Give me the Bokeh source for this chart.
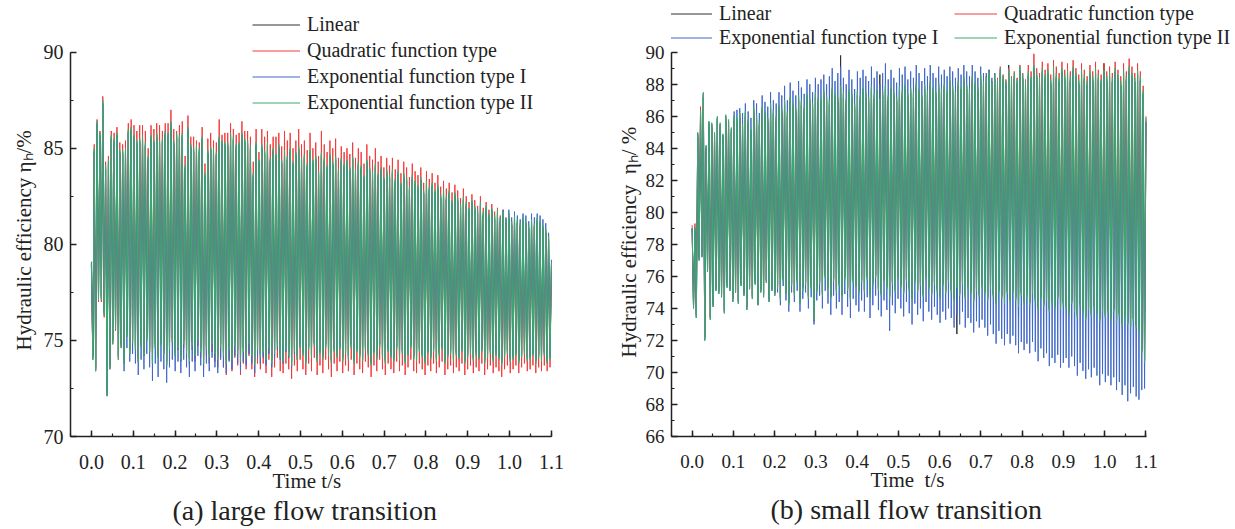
from bokeh.plotting import figure
from bokeh.models import Range1d, SingleIntervalTicker, PrintfTickFormatter, Legend, LegendItem, Title
from bokeh.layouts import row
from bokeh.embed import file_html
from bokeh.resources import INLINE

FONT = "Liberation Serif"
T_END = 1.1
names = ["Linear", "Quadratic function type", "Exponential function type I", "Exponential function type II"]
colors = ["#303030", "#F03C3C", "#4169C8", "#3DAA6D"]

# ---------------- (a) large flow transition : peak / trough of every cycle ----------------
a_start = [78.9, 79.0, 79.1, 79.0]

a_lin_pk = [84.8, 86.2, 85.6, 87.3, 83.9, 84.2, 85.5, 85.3, 85.6, 84.7, 84.7, 84.8, 85.8, 85.9, 85.5,
            85.2, 85.3, 85.5, 85.1, 84.4, 85.5, 85.2, 85.6, 85.2, 85.3, 85.7, 85.6, 86.2, 85.2, 85.6,
            85.5, 85.6, 83.9, 85.9, 85.0, 84.8, 85.0, 84.8, 85.4, 83.5, 84.7, 84.9, 84.8, 84.6, 85.4,
            85.2, 85.1, 85.1, 85.6, 85.4, 85.0, 85.1, 85.6, 85.3, 85.2, 84.9, 83.5, 85.1, 84.2, 85.0,
            84.7, 85.1, 84.3, 84.8, 84.5, 85.0, 84.2, 84.7, 84.4, 84.8, 84.1, 84.6, 84.9, 84.3,
            84.5, 84.0, 84.7, 84.2, 84.4, 83.6, 84.6, 84.3, 83.9, 84.5, 84.1, 84.4, 83.7, 84.3, 84.0,
            84.2, 83.8, 84.4, 83.7, 84.1, 83.9, 83.4, 84.2, 83.8, 83.6, 84.0, 83.5, 83.8, 83.3, 83.7,
            83.4, 83.7, 83.2, 83.6, 83.0, 83.5, 83.3, 82.8, 83.4, 83.1, 82.9, 83.3, 82.6, 83.1, 82.8,
            83.0, 82.6, 82.9, 82.4, 82.7, 82.3, 82.6, 82.1, 82.5, 82.2, 81.9, 82.3, 82.0, 81.7,
            82.1, 81.8, 81.6, 82.0, 81.5, 81.8, 81.4, 81.7, 81.3, 81.6, 81.2, 81.5, 81.1, 81.4, 81.0,
            81.3, 81.1, 80.9, 81.2, 81.0, 80.8, 81.1, 80.9, 81.2, 81.0, 80.8, 80.6, 80.2, 78.8]
a_lin_tr = [74.2, 73.6, 77.3, 77.3, 76.5, 72.3, 73.7, 75.0, 75.8, 74.2, 74.8, 74.0, 75.4, 74.5, 75.1,
            74.7, 74.1, 74.9, 74.4, 75.2, 74.6, 74.0, 74.8, 74.3, 75.0, 74.5, 73.9, 74.7, 75.1, 74.4,
            74.8, 74.2, 75.0, 74.5, 74.1, 74.9, 74.4, 75.2, 74.6, 74.0, 74.7, 74.3, 75.0, 74.5, 74.2,
            74.8, 74.4, 74.0, 74.7, 74.2, 74.9, 74.5, 74.1, 74.6, 74.3, 75.0, 74.4, 73.9, 74.7, 74.3,
            74.6, 74.2, 74.8, 74.0, 74.5, 74.9, 74.3, 74.1, 74.7, 74.4, 73.9, 74.6, 74.2, 74.8,
            74.4, 74.0, 74.7, 74.3, 74.9, 74.1, 74.5, 74.2, 74.8, 74.4, 74.0, 74.6, 74.3, 74.7, 74.1,
            74.5, 74.2, 74.8, 74.0, 74.6, 74.3, 74.1, 74.7, 74.4, 73.9, 74.5, 74.2, 74.8, 74.3, 74.0,
            74.6, 74.3, 74.1, 74.7, 74.2, 74.5, 74.0, 74.4, 74.8, 74.2, 74.1, 74.6, 74.3, 74.0, 74.5,
            74.2, 74.6, 74.1, 74.4, 74.7, 74.0, 74.3, 74.5, 74.1, 74.4, 74.2, 74.6, 74.0, 74.3,
            74.5, 74.1, 74.4, 74.2, 74.6, 74.0, 74.3, 74.5, 74.1, 74.4, 74.2, 73.9, 74.3, 74.5, 74.1,
            74.2, 74.4, 74.0, 74.3, 74.5, 74.1, 74.2, 74.4, 74.0, 74.3, 74.1, 74.4, 74.0, 74.2]

a_quad_pk = [85.2, 86.5, 85.9, 87.7, 84.3, 84.6, 85.9, 85.8, 86.1, 85.3, 85.2, 85.4, 86.3, 86.5, 86.2,
             85.9, 86.2, 86.2, 85.9, 85.0, 86.2, 86.0, 86.3, 86.2, 85.9, 86.3, 86.3, 87.0, 86.0, 85.9,
             86.2, 86.4, 84.6, 86.7, 85.6, 85.6, 85.4, 85.3, 86.1, 84.2, 85.5, 85.8, 85.4, 85.3, 86.5,
             85.7, 85.8, 85.8, 86.3, 86.0, 85.7, 85.8, 86.4, 85.9, 85.9, 85.6, 84.3, 86.0, 84.8, 86.0,
             85.6, 85.9, 85.2, 85.6, 85.6, 85.8, 85.1, 85.9, 85.4, 85.8, 85.0, 85.4, 86.0, 85.2,
             85.4, 84.9, 85.8, 85.0, 85.3, 84.6, 85.9, 85.2, 84.8, 85.4, 85.0, 85.5, 84.5, 85.1, 84.8,
             85.0, 84.7, 85.3, 84.5, 85.0, 84.8, 84.2, 85.2, 84.6, 84.4, 85.0, 84.3, 84.6, 84.0, 84.5,
             84.1, 84.5, 83.9, 84.4, 83.7, 84.3, 84.0, 83.5, 84.2, 83.8, 83.6, 84.0, 83.2, 83.8, 83.4,
             83.7, 83.2, 83.6, 83.0, 83.3, 82.9, 83.2, 82.7, 83.1, 82.8, 82.4, 82.9, 82.5, 82.2,
             82.6, 82.3, 82.0, 82.5, 81.9, 82.2, 81.8, 82.1, 81.7, 81.9, 81.5, 81.8, 81.3, 81.6, 81.1,
             81.4, 81.2, 81.0, 81.3, 81.1, 80.9, 81.2, 81.0, 81.3, 81.1, 80.9, 80.7, 80.3, 78.9]
a_quad_tr = [74.0, 73.4, 77.0, 77.0, 76.2, 72.1, 73.5, 74.8, 75.5, 74.0, 74.6, 73.8, 75.2, 74.3, 74.9,
             74.5, 73.9, 74.7, 74.2, 75.0, 74.4, 73.8, 74.6, 74.1, 74.8, 74.3, 73.7, 74.5, 74.9, 74.2,
             74.5, 73.9, 74.6, 74.1, 73.7, 74.5, 73.9, 74.7, 74.1, 73.5, 74.2, 73.8, 74.4, 73.9, 73.6,
             74.1, 73.6, 73.2, 74.0, 73.4, 74.1, 73.7, 73.2, 73.8, 73.5, 74.2, 73.5, 73.1, 73.8, 73.5,
             73.8, 73.3, 74.0, 73.1, 73.6, 74.1, 73.4, 73.3, 73.8, 73.5, 73.0, 73.7, 73.4, 74.0,
             73.5, 73.2, 73.8, 73.4, 74.1, 73.2, 73.7, 73.3, 74.0, 73.5, 73.1, 73.8, 73.4, 73.9, 73.3,
             73.7, 73.4, 74.0, 73.2, 73.8, 73.5, 73.3, 73.9, 73.6, 73.1, 73.7, 73.4, 74.0, 73.5, 73.2,
             73.8, 73.5, 73.3, 73.9, 73.4, 73.7, 73.2, 73.6, 74.0, 73.4, 73.3, 73.8, 73.5, 73.2, 73.7,
             73.4, 73.8, 73.3, 73.6, 73.9, 73.2, 73.5, 73.7, 73.3, 73.6, 73.4, 73.8, 73.2, 73.5,
             73.7, 73.3, 73.6, 73.4, 73.8, 73.2, 73.5, 73.7, 73.3, 73.6, 73.4, 73.1, 73.5, 73.7, 73.3,
             73.5, 73.7, 73.3, 73.6, 73.8, 73.4, 73.5, 73.7, 73.3, 73.6, 73.4, 73.7, 73.4, 73.6]

a_exp1_pk = [84.9, 86.3, 85.7, 87.4, 84.0, 84.3, 85.6, 85.4, 85.7, 84.8, 84.8, 84.9, 85.9, 86.0, 85.6,
             85.3, 85.4, 85.6, 85.2, 84.5, 85.6, 85.3, 85.7, 85.3, 85.4, 85.8, 85.7, 86.3, 85.3, 85.7,
             85.6, 85.7, 84.0, 86.0, 85.1, 84.9, 85.1, 84.9, 85.5, 83.6, 84.8, 85.0, 84.9, 84.7, 85.5,
             85.3, 85.2, 85.2, 85.7, 85.5, 85.1, 85.2, 85.7, 85.4, 85.3, 85.0, 83.6, 85.2, 84.3, 85.1,
             84.8, 85.2, 84.4, 84.9, 84.6, 85.1, 84.3, 84.8, 84.5, 84.9, 84.2, 84.7, 85.0, 84.4,
             84.6, 84.1, 84.8, 84.3, 84.5, 83.7, 84.7, 84.4, 84.0, 84.6, 84.2, 84.5, 83.8, 84.4, 84.1,
             84.3, 83.9, 84.5, 83.8, 84.2, 84.0, 83.5, 84.3, 83.9, 83.7, 84.1, 83.6, 83.9, 83.4, 83.8,
             83.5, 83.8, 83.3, 83.7, 83.1, 83.6, 83.4, 82.9, 83.5, 83.2, 83.0, 83.4, 82.7, 83.2, 82.9,
             83.1, 82.7, 83.0, 82.5, 82.8, 82.4, 82.7, 82.2, 82.6, 82.3, 82.0, 82.4, 82.1, 81.8,
             82.2, 81.9, 81.7, 82.1, 81.6, 81.9, 81.5, 81.8, 81.4, 81.7, 81.4, 81.8, 81.4, 81.8, 81.4,
             81.7, 81.5, 81.3, 81.6, 81.5, 81.2, 81.6, 81.4, 81.6, 81.5, 81.3, 81.1, 80.6, 79.2]
a_exp1_tr = [74.1, 73.5, 77.2, 77.2, 76.4, 72.2, 73.6, 74.9, 75.6, 74.1, 74.7, 73.4, 74.6, 73.9, 74.3,
             73.8, 73.2, 74.0, 73.5, 74.3, 73.6, 72.9, 73.8, 73.1, 73.9, 73.5, 72.8, 73.6, 74.0, 73.4,
             73.9, 73.3, 74.0, 73.6, 73.1, 73.9, 73.4, 74.2, 73.7, 73.1, 73.8, 73.4, 74.1, 73.6, 73.3,
             74.0, 73.6, 73.3, 73.9, 73.5, 74.2, 73.8, 73.4, 73.9, 73.7, 74.3, 73.8, 73.3, 74.1, 73.8,
             74.1, 73.7, 74.3, 73.6, 74.1, 74.5, 74.0, 73.8, 74.4, 74.1, 73.6, 74.3, 74.0, 74.6,
             74.3, 73.9, 74.6, 74.2, 74.8, 74.0, 74.4, 74.1, 74.7, 74.3, 73.9, 74.5, 74.2, 74.6, 74.0,
             74.4, 74.1, 74.7, 73.9, 74.5, 74.2, 74.0, 74.6, 74.3, 73.8, 74.4, 74.1, 74.7, 74.2, 73.9,
             74.5, 74.2, 74.0, 74.6, 74.1, 74.4, 73.9, 74.3, 74.7, 74.1, 74.0, 74.5, 74.2, 73.9, 74.4,
             74.1, 74.5, 74.0, 74.3, 74.6, 73.9, 74.2, 74.4, 74.0, 74.3, 74.1, 74.5, 73.9, 74.2,
             74.4, 74.0, 74.3, 74.1, 74.5, 73.9, 74.2, 74.4, 74.0, 74.3, 74.1, 73.8, 74.2, 74.4, 74.0,
             74.1, 74.3, 73.9, 74.2, 74.4, 74.0, 74.1, 74.3, 73.9, 74.2, 74.0, 74.3, 73.9, 74.1]

a_exp2_pk = [85.0, 86.4, 85.8, 87.5, 84.1, 84.4, 85.7, 85.5, 85.8, 84.9, 84.9, 85.0, 86.0, 86.1, 85.7,
             85.4, 85.5, 85.7, 85.3, 84.6, 85.7, 85.4, 85.8, 85.4, 85.5, 85.9, 85.8, 86.4, 85.4, 85.8,
             85.7, 85.8, 84.1, 86.1, 85.2, 85.0, 85.2, 85.0, 85.6, 83.7, 84.9, 85.1, 85.0, 84.8, 85.6,
             85.4, 85.3, 85.3, 85.8, 85.6, 85.2, 85.3, 85.8, 85.5, 85.4, 85.1, 83.7, 85.3, 84.4, 85.2,
             84.9, 85.3, 84.5, 85.0, 84.7, 85.2, 84.4, 84.9, 84.6, 85.0, 84.3, 84.8, 85.1, 84.5,
             84.7, 84.2, 84.9, 84.4, 84.6, 83.8, 84.8, 84.5, 84.1, 84.7, 84.3, 84.6, 83.9, 84.5, 84.2,
             84.4, 84.0, 84.6, 83.9, 84.3, 84.1, 83.6, 84.4, 84.0, 83.8, 84.2, 83.7, 84.0, 83.5, 83.9,
             83.6, 83.9, 83.4, 83.8, 83.2, 83.7, 83.5, 83.0, 83.6, 83.3, 83.1, 83.5, 82.8, 83.3, 83.0,
             83.2, 82.8, 83.1, 82.6, 82.9, 82.5, 82.8, 82.3, 82.7, 82.4, 82.1, 82.5, 82.2, 81.9,
             82.3, 82.0, 81.8, 82.2, 81.7, 82.0, 81.6, 81.9, 81.5, 81.8, 81.4, 81.7, 81.3, 81.6, 81.2,
             81.5, 81.3, 81.1, 81.4, 81.2, 81.0, 81.3, 81.1, 81.4, 81.2, 81.0, 80.8, 80.4, 79.0]
a_exp2_tr = [74.0, 73.4, 77.1, 77.1, 76.3, 72.1, 73.5, 74.8, 75.6, 74.0, 74.6, 73.8, 75.2, 74.3, 74.9,
             74.5, 73.9, 74.7, 74.2, 75.0, 74.4, 73.8, 74.6, 74.1, 74.8, 74.3, 73.7, 74.5, 74.9, 74.2,
             74.6, 74.0, 74.8, 74.3, 73.9, 74.7, 74.2, 75.0, 74.4, 73.8, 74.5, 74.1, 74.8, 74.3, 74.0,
             74.6, 74.2, 73.8, 74.5, 74.0, 74.7, 74.3, 73.9, 74.4, 74.1, 74.8, 74.2, 73.7, 74.5, 74.1,
             74.4, 74.0, 74.6, 73.8, 74.3, 74.7, 74.1, 73.9, 74.5, 74.2, 73.7, 74.4, 74.0, 74.6,
             74.2, 73.8, 74.5, 74.1, 74.7, 73.9, 74.3, 74.0, 74.6, 74.2, 73.8, 74.4, 74.1, 74.5, 73.9,
             74.3, 74.0, 74.6, 73.8, 74.4, 74.1, 73.9, 74.5, 74.2, 73.7, 74.3, 74.0, 74.6, 74.1, 73.8,
             74.4, 74.1, 73.9, 74.5, 74.0, 74.3, 73.8, 74.2, 74.6, 74.0, 73.9, 74.4, 74.1, 73.8, 74.3,
             74.0, 74.4, 73.9, 74.2, 74.5, 73.8, 74.1, 74.3, 73.9, 74.2, 74.0, 74.4, 73.8, 74.1,
             74.3, 73.9, 74.2, 74.0, 74.4, 73.8, 74.1, 74.3, 73.9, 74.2, 74.0, 73.7, 74.1, 74.3, 73.9,
             74.0, 74.2, 73.8, 74.1, 74.3, 73.9, 74.0, 74.2, 73.8, 74.1, 73.9, 74.2, 73.8, 74.0]

# ---------------- (b) small flow transition : peak / trough of every cycle ----------------
b_start = [79.0, 79.2, 79.0, 79.0]

b_lin_pk = [78.9, 84.7, 86.1, 87.2, 83.9, 85.4, 85.3, 84.7, 85.7, 85.3, 84.6, 85.8, 85.5, 85.0, 85.7,
            85.6, 85.9, 85.2, 86.0, 85.5, 84.9, 86.2, 85.8, 85.4, 86.3, 86.0, 85.6, 86.5, 86.1, 85.7,
            86.4, 86.2, 86.7, 86.0, 86.9, 86.5, 86.2, 87.0, 86.7, 86.3, 87.1, 86.8, 86.5, 87.2, 86.9,
            86.8, 87.3, 87.0, 86.7, 87.5, 87.1, 86.9, 89.8, 87.2, 86.8, 87.4, 87.1, 86.5, 87.3, 87.0,
            87.5, 87.2, 86.9, 87.6, 87.1, 87.4, 88.6, 87.3, 87.7, 87.0, 87.5, 87.2, 86.9, 87.6,
            87.3, 87.7, 87.1, 87.5, 87.2, 87.8, 87.4, 87.0, 87.7, 87.3, 87.9, 87.5, 87.2, 87.8, 87.4,
            87.7, 87.3, 88.0, 87.6, 87.2, 87.9, 87.5, 88.1, 87.7, 87.4, 88.2, 87.8, 87.5, 88.3, 87.9,
            88.1, 88.5, 87.8, 88.3, 88.0, 88.7, 88.2, 87.9, 89.2, 88.1, 88.4, 88.0, 88.8, 88.3, 87.9,
            88.5, 88.2, 88.9, 88.4, 88.1, 88.7, 88.3, 88.6, 88.0, 88.8, 88.4, 88.1, 88.7, 88.3,
            88.6, 88.2, 88.8, 88.4, 88.0, 88.6, 88.3, 87.9, 88.5, 88.2, 88.7, 88.3, 88.0, 89.3, 88.2,
            88.5, 88.1, 88.7, 88.3, 87.9, 88.6, 88.2, 88.8, 88.4, 88.1, 88.6, 88.2, 87.3, 85.6]
b_lin_tr = [74.2, 73.6, 77.2, 77.4, 72.2, 76.5, 73.5, 74.3, 75.3, 75.1, 74.9, 73.9, 75.5, 75.3, 74.6,
            75.2, 74.5, 75.6, 75.0, 74.1, 75.4, 74.8, 75.7, 74.4, 75.2, 74.9, 75.8, 74.6, 75.3, 75.0,
            75.5, 74.7, 75.9, 75.1, 74.4, 75.6, 75.0, 75.8, 74.5, 75.3, 75.7, 74.8, 75.4, 73.5, 75.2,
            75.7, 75.0, 76.1, 75.4, 74.8, 75.9, 75.2, 75.6, 74.9, 76.0, 75.3, 74.7, 75.8, 75.5, 75.1,
            75.8, 75.2, 76.0, 74.9, 75.6, 76.1, 75.3, 75.0, 75.9, 75.4, 74.8, 75.7, 75.2, 76.0,
            75.5, 75.1, 75.9, 75.3, 74.7, 75.8, 75.2, 75.6, 74.9, 76.0, 75.4, 75.0, 75.7, 75.2, 74.8,
            75.6, 75.1, 75.8, 75.2, 74.7, 72.4, 75.0, 75.7, 74.8, 75.4, 75.1, 74.6, 75.3, 74.9, 75.5,
            75.1, 74.7, 75.4, 74.9, 74.4, 75.2, 74.8, 74.5, 75.1, 74.6, 75.2, 74.7, 73.4, 75.0, 74.5,
            74.9, 74.4, 75.1, 74.6, 74.1, 74.8, 74.3, 74.7, 74.0, 74.5, 74.2, 74.8, 74.1, 74.4,
            74.2, 73.8, 74.5, 74.0, 73.6, 74.3, 73.9, 73.5, 74.1, 73.7, 74.2, 73.8, 73.4, 74.0, 73.6,
            73.9, 73.5, 74.0, 73.3, 73.7, 73.1, 73.6, 73.2, 72.9, 73.4, 73.0, 72.7, 71.4, 70.8]

b_quad_pk = [79.3, 84.9, 86.6, 87.4, 84.1, 85.6, 85.5, 84.9, 85.9, 85.5, 84.8, 86.0, 85.7, 85.2, 85.9,
             85.8, 86.1, 85.4, 86.2, 85.7, 85.1, 86.4, 86.0, 85.6, 86.5, 86.2, 85.8, 86.7, 86.3, 85.9,
             86.6, 86.4, 86.9, 86.2, 87.1, 86.7, 86.4, 87.2, 86.9, 86.5, 87.3, 87.0, 86.7, 87.4, 87.1,
             87.0, 87.5, 87.2, 86.9, 87.7, 87.3, 87.1, 87.8, 87.4, 87.0, 87.6, 87.3, 86.7, 87.5, 87.2,
             87.7, 87.4, 87.1, 87.8, 87.3, 87.6, 87.0, 87.5, 87.9, 87.2, 87.7, 87.4, 87.1, 87.8,
             87.5, 87.9, 87.3, 87.7, 87.4, 88.0, 87.6, 87.2, 87.9, 87.5, 88.1, 87.7, 87.4, 88.0, 87.6,
             87.9, 87.5, 88.2, 87.8, 87.4, 88.1, 87.7, 88.3, 87.9, 87.6, 88.4, 88.0, 87.7, 88.5, 88.1,
             88.5, 88.9, 88.2, 88.7, 88.4, 89.1, 88.6, 88.3, 89.0, 88.5, 88.8, 88.4, 89.2, 88.7, 88.3,
             89.2, 88.8, 89.9, 89.0, 88.7, 89.4, 88.9, 89.3, 88.6, 89.5, 89.1, 88.7, 89.4, 88.9,
             89.3, 88.8, 89.5, 89.0, 88.6, 89.3, 88.9, 88.5, 89.2, 88.8, 89.4, 88.9, 88.6, 89.3, 88.8,
             89.1, 88.7, 89.4, 88.9, 88.5, 89.3, 88.8, 89.6, 89.1, 88.7, 89.3, 88.8, 87.9, 86.0]
b_quad_tr = [74.1, 73.5, 77.1, 77.3, 72.1, 76.4, 73.4, 74.2, 75.2, 75.0, 74.8, 73.8, 75.4, 75.2, 74.5,
             75.1, 74.4, 75.5, 74.9, 74.0, 75.3, 74.7, 75.6, 74.3, 75.1, 74.8, 75.7, 74.5, 75.2, 74.9,
             75.4, 74.6, 75.8, 75.0, 74.3, 75.5, 74.9, 75.7, 74.4, 75.2, 75.6, 74.7, 75.3, 73.2, 75.1,
             75.6, 74.9, 76.0, 75.3, 74.7, 75.8, 75.1, 75.5, 74.8, 75.9, 75.2, 74.6, 75.7, 75.4, 75.0,
             75.7, 75.1, 75.9, 74.8, 75.5, 76.0, 75.2, 74.9, 75.8, 75.3, 74.7, 75.6, 75.1, 75.9,
             75.4, 75.0, 75.8, 75.2, 74.6, 75.7, 75.1, 75.5, 74.8, 75.9, 75.3, 74.9, 75.6, 75.1, 74.7,
             75.5, 75.0, 75.7, 75.1, 74.6, 75.4, 74.9, 75.6, 74.7, 75.3, 75.0, 74.5, 75.2, 74.8, 75.4,
             75.0, 74.6, 75.3, 74.8, 74.3, 75.1, 74.7, 74.4, 75.0, 74.5, 75.1, 74.6, 74.2, 74.9, 74.4,
             74.8, 74.3, 75.0, 74.5, 74.0, 74.7, 74.2, 74.6, 73.9, 74.4, 74.1, 74.7, 74.0, 74.3,
             74.1, 73.7, 74.4, 73.9, 73.5, 74.2, 73.8, 73.4, 74.0, 73.6, 74.1, 73.7, 73.3, 73.9, 73.5,
             73.8, 73.4, 73.9, 73.2, 73.6, 73.0, 73.5, 73.1, 72.8, 73.3, 72.9, 72.6, 71.3, 70.7]

b_exp1_pk = [79.0, 84.9, 86.3, 87.4, 84.1, 85.6, 85.5, 84.9, 85.9, 85.5, 84.8, 86.0, 85.7, 85.2, 86.3,
             86.4, 86.5, 86.2, 86.8, 86.3, 85.9, 87.0, 86.8, 86.2, 87.3, 86.9, 86.6, 87.5, 87.0, 86.8,
             87.5, 87.3, 87.9, 87.0, 88.1, 87.6, 87.3, 88.2, 87.8, 87.4, 88.3, 88.0, 87.5, 88.4, 88.0,
             88.3, 88.6, 88.0, 88.5, 89.0, 88.2, 88.7, 89.1, 88.4, 88.0, 88.9, 88.3, 87.7, 88.8, 88.4,
             88.9, 88.5, 88.2, 89.1, 88.4, 88.8, 88.0, 88.7, 89.3, 88.3, 88.9, 88.4, 88.1, 89.0,
             88.6, 89.1, 88.3, 88.8, 88.4, 89.2, 88.7, 88.2, 89.0, 88.5, 89.2, 88.7, 88.4, 89.1, 88.6,
             88.9, 88.5, 89.1, 88.8, 88.4, 89.0, 88.6, 89.2, 88.8, 88.5, 89.2, 88.8, 88.4, 89.1, 88.7,
             88.7, 88.9, 88.4, 88.7, 88.2, 88.9, 88.3, 88.1, 88.7, 88.2, 88.5, 88.1, 88.9, 88.4, 88.0,
             88.6, 88.3, 89.0, 88.5, 88.2, 88.8, 88.4, 88.7, 88.1, 88.9, 88.5, 88.2, 88.8, 88.4,
             88.7, 88.3, 88.9, 88.5, 88.1, 88.7, 88.4, 88.0, 88.6, 88.3, 88.8, 88.4, 88.1, 88.7, 88.3,
             88.6, 88.2, 88.8, 88.4, 88.0, 88.7, 88.3, 88.9, 88.5, 88.2, 88.7, 88.3, 87.4, 85.7]
b_exp1_tr = [74.0, 73.4, 77.0, 77.2, 72.0, 76.3, 73.3, 74.1, 75.1, 74.9, 74.7, 73.7, 75.3, 75.1, 74.4,
             75.0, 74.3, 75.4, 74.8, 73.9, 75.2, 74.6, 75.5, 74.2, 75.0, 74.7, 75.6, 74.4, 75.1, 74.8,
             75.0, 74.2, 75.4, 74.5, 73.8, 75.0, 74.4, 75.1, 73.8, 74.6, 75.0, 74.0, 74.7, 73.0, 74.5,
             74.8, 74.0, 75.1, 74.3, 73.6, 74.8, 74.0, 74.4, 73.6, 74.9, 74.1, 73.4, 74.6, 74.2, 73.8,
             74.5, 73.8, 74.7, 73.4, 74.2, 74.8, 73.9, 73.5, 74.5, 73.9, 72.6, 74.2, 73.7, 74.6,
             74.0, 73.5, 74.4, 73.7, 73.0, 74.3, 73.6, 74.0, 73.2, 74.4, 73.8, 73.3, 74.1, 73.6, 73.1,
             73.8, 73.3, 74.0, 73.4, 72.8, 73.6, 73.0, 73.8, 72.8, 73.4, 73.1, 72.5, 73.2, 72.8, 73.3,
             72.8, 72.3, 73.0, 72.4, 71.8, 72.6, 72.1, 71.7, 72.4, 71.8, 72.3, 71.7, 71.2, 71.9, 71.4,
             71.8, 71.2, 71.9, 71.3, 70.7, 71.5, 70.9, 71.2, 70.4, 70.9, 70.6, 71.1, 70.3, 70.6,
             70.9, 70.3, 71.0, 70.4, 69.8, 70.6, 70.1, 69.6, 70.2, 69.7, 70.3, 69.8, 69.2, 69.9, 69.4,
             69.8, 69.2, 69.7, 68.9, 69.4, 68.6, 69.2, 68.2, 68.7, 69.1, 68.5, 68.3, 68.9, 69.0]

b_exp2_pk = [79.1, 85.0, 86.4, 87.5, 84.2, 85.7, 85.6, 85.0, 86.0, 85.6, 84.9, 86.1, 85.8, 85.3, 86.0,
             85.9, 86.2, 85.5, 86.3, 85.8, 85.2, 86.5, 86.1, 85.7, 86.6, 86.3, 85.9, 86.8, 86.4, 86.0,
             86.7, 86.5, 87.0, 86.3, 87.2, 86.8, 86.5, 87.3, 87.0, 86.6, 87.4, 87.1, 86.8, 87.5, 87.2,
             87.1, 87.6, 87.3, 87.0, 87.8, 87.4, 87.2, 87.9, 87.5, 87.1, 87.7, 87.4, 86.8, 87.6, 87.3,
             87.8, 87.5, 87.2, 87.9, 87.4, 87.7, 87.1, 87.6, 88.0, 87.3, 87.8, 87.5, 87.2, 87.9,
             87.6, 88.0, 87.4, 87.8, 87.5, 88.1, 87.7, 87.3, 88.0, 87.6, 88.2, 87.8, 87.5, 88.1, 87.7,
             88.0, 87.6, 88.3, 87.9, 87.5, 88.2, 87.8, 88.4, 88.0, 87.7, 88.5, 88.1, 87.8, 88.6, 88.2,
             88.4, 88.8, 88.1, 88.6, 88.3, 89.0, 88.5, 88.2, 88.9, 88.4, 88.7, 88.3, 89.1, 88.6, 88.2,
             88.8, 88.5, 89.2, 88.7, 88.4, 89.0, 88.6, 88.9, 88.3, 89.1, 88.7, 88.4, 89.0, 88.6,
             88.9, 88.5, 89.1, 88.7, 88.3, 88.9, 88.6, 88.2, 88.8, 88.5, 89.0, 88.6, 88.3, 88.9, 88.5,
             88.8, 88.4, 89.0, 88.6, 88.2, 88.9, 88.5, 89.1, 88.7, 88.4, 88.9, 88.5, 87.6, 85.9]
b_exp2_tr = [74.0, 73.4, 77.0, 77.2, 72.0, 76.3, 73.3, 74.1, 75.1, 74.9, 74.7, 73.7, 75.3, 75.1, 74.4,
             75.0, 74.3, 75.4, 74.8, 73.9, 75.2, 74.6, 75.5, 74.2, 75.0, 74.7, 75.6, 74.4, 75.1, 74.8,
             75.3, 74.5, 75.7, 74.9, 74.2, 75.4, 74.8, 75.6, 74.3, 75.1, 75.5, 74.6, 75.2, 73.3, 75.0,
             75.5, 74.8, 75.9, 75.2, 74.6, 75.7, 75.0, 75.4, 74.7, 75.8, 75.1, 74.5, 75.6, 75.3, 74.9,
             75.6, 75.0, 75.8, 74.7, 75.4, 75.9, 75.1, 74.8, 75.7, 75.2, 74.6, 75.5, 75.0, 75.8,
             75.3, 74.9, 75.7, 75.1, 74.5, 75.6, 75.0, 75.4, 74.7, 75.8, 75.2, 74.8, 75.5, 75.0, 74.6,
             75.4, 74.9, 75.6, 75.0, 74.5, 75.3, 74.8, 75.5, 74.6, 75.2, 74.9, 74.4, 75.1, 74.7, 75.3,
             74.9, 74.5, 75.2, 74.7, 74.2, 75.0, 74.6, 74.3, 74.9, 74.4, 75.0, 74.5, 74.1, 74.8, 74.3,
             74.7, 74.2, 74.9, 74.4, 73.9, 74.6, 74.1, 74.5, 73.8, 74.3, 74.0, 74.6, 73.9, 74.2,
             74.0, 73.6, 74.3, 73.8, 73.4, 74.1, 73.7, 73.3, 73.9, 73.5, 74.0, 73.6, 73.2, 73.8, 73.4,
             73.7, 73.3, 73.8, 73.1, 73.5, 72.9, 73.4, 73.0, 72.7, 73.2, 72.8, 72.5, 71.2, 70.6]


def build(start, troughs, peaks, n):
    ys = [start]
    for i in range(n):
        ys.append(troughs[i])
        ys.append(peaks[i])
    xs = [T_END * i / (2 * n) for i in range(2 * n + 1)]
    return xs, ys


def style_axes(p, y_interval, y_lo, y_hi, tick_fs):
    p.xaxis.ticker = SingleIntervalTicker(interval=0.1, num_minor_ticks=2)
    p.xaxis.formatter = PrintfTickFormatter(format="%.1f")
    p.xaxis.bounds = (-0.05, 1.1001)
    p.yaxis.ticker = SingleIntervalTicker(interval=y_interval, num_minor_ticks=2)
    p.yaxis.bounds = (y_lo, y_hi)
    for ax in (p.xaxis[0], p.yaxis[0]):
        ax.axis_line_width = 1.5
        ax.axis_line_color = "#222222"
        ax.major_tick_in = 6
        ax.major_tick_out = 0
        ax.minor_tick_in = 3
        ax.minor_tick_out = 0
        ax.major_tick_line_width = 1.5
        ax.minor_tick_line_width = 1.2
        ax.major_tick_line_color = "#222222"
        ax.minor_tick_line_color = "#222222"
        ax.major_label_text_font = FONT
        ax.major_label_text_font_size = tick_fs
        ax.major_label_text_color = "#222222"
    p.xaxis.major_label_standoff = 18
    p.yaxis.major_label_standoff = 7
    p.xgrid.visible = False
    p.ygrid.visible = False
    p.outline_line_color = None


def make_panel(width, borders, xr, yr, lists, starts, y_interval, y_lo, y_hi, ylabel, ylab_offset,
               ylab_standoff, xlabel, xlab_offset, caption, cap_offset, tick_fs):
    left, right, top, bottom = borders
    p = figure(width=width, height=529, output_backend="svg", toolbar_location=None,
               x_range=Range1d(*xr), y_range=Range1d(*yr),
               min_border_left=left, min_border_right=right, min_border_top=top, min_border_bottom=bottom)
    style_axes(p, y_interval, y_lo, y_hi, tick_fs)
    n = min(len(l) for l in lists)
    rends = []
    for i in range(4):
        xs, ys = build(starts[i], lists[2 * i + 1], lists[2 * i], n)
        r = p.line(xs, ys, line_color=colors[i], line_width=1.0)
        rends.append(r)
    ty = Title(text=ylabel, align="left", offset=ylab_offset, standoff=ylab_standoff, text_font=FONT,
               text_font_size="21px", text_font_style="normal", text_color="#222222")
    p.add_layout(ty, "left")
    tx = Title(text=xlabel, align="left", offset=xlab_offset, standoff=-9, text_font=FONT,
               text_font_size="21px", text_font_style="normal", text_color="#222222")
    p.add_layout(tx, "below")
    t = Title(text=caption, align="left", offset=cap_offset, text_font=FONT, text_font_size="28px",
              text_font_style="normal", text_color="#222222", standoff=8, text_line_height=0.8)
    p.add_layout(t, "below")
    return p, rends


def style_legend(lg, fs, gw, spacing):
    lg.glyph_width = gw
    lg.glyph_height = 23
    lg.label_height = 23
    lg.label_standoff = 7
    lg.spacing = spacing
    lg.padding = 0
    lg.margin = 0
    lg.border_line_alpha = 0
    lg.background_fill_alpha = 0
    lg.label_text_font = FONT
    lg.label_text_font_size = fs
    lg.label_text_color = "#222222"


a_lists = [a_lin_pk, a_lin_tr, a_quad_pk, a_quad_tr, a_exp1_pk, a_exp1_tr, a_exp2_pk, a_exp2_tr]
b_lists = [b_lin_pk, b_lin_tr, b_quad_pk, b_quad_tr, b_exp1_pk, b_exp1_tr, b_exp2_pk, b_exp2_tr]

pa, ra = make_panel(612, (70, 6, 0, 91), (-0.05, 1.2317), (70, 92.69), a_lists, a_start, 5, 70, 90,
                    "Hydraulic efficiency \u03b7\u2095/%", 86, 9, "Time t/s", 202,
                    "(a) large flow transition", 102, "20px")
leg_a = Legend(items=[LegendItem(label=names[i], renderers=[ra[i]]) for i in range(4)], location=(182, 322))
style_legend(leg_a, "20px", 48, 3)
pa.add_layout(leg_a)

pb, rb = make_panel(623, (55, 0, 0, 92), (-0.05, 1.317), (66, 93.23), b_lists, b_start, 2, 66, 90,
                    "Hydraulic efficiency\u00a0 \u03b7\u2095/ %", 79, 4, "Time\u00a0 t/s", 199,
                    "(b) small flow transition", 99, "19px")
leg_b1 = Legend(items=[LegendItem(label=names[0], renderers=[rb[0]]),
                       LegendItem(label=names[2], renderers=[rb[2]])], location=(-2, 387))
leg_b2 = Legend(items=[LegendItem(label=names[1], renderers=[rb[1]]),
                       LegendItem(label=names[3], renderers=[rb[3]])], location=(283, 387))
for lg in (leg_b1, leg_b2):
    style_legend(lg, "20px", 43, 1)
    pb.add_layout(lg)

layout = row(pa, pb)
open("out.html", "w").write(file_html(layout, INLINE))
